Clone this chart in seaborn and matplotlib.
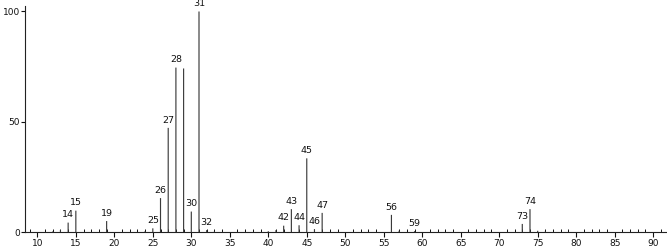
import matplotlib
matplotlib.use("Agg")
import matplotlib.pyplot as plt
import seaborn as sns
import pandas as pd
from matplotlib.ticker import MultipleLocator

mz = [12, 13, 14, 15, 19, 24, 25, 26, 27, 28, 29, 30, 31, 32, 33,
      40, 41, 42, 43, 44, 45, 46, 47, 56, 57, 59, 73, 74, 75, 76]
intensity = [0.4, 1.0, 4.4, 9.8, 5.1, 0.5, 1.8, 15.5, 47.3, 74.6, 74.2, 9.4, 100.0, 1.0, 0.4,
             0.5, 1.0, 3.0, 10.5, 3.2, 33.5, 1.4, 8.8, 7.9, 0.7, 0.5, 3.8, 10.5, 0.7, 0.4]
labeled = [14, 15, 19, 25, 26, 27, 28, 30, 31, 32, 42, 43, 44, 45, 46, 47, 56, 59, 73, 74]
x_ticks = list(range(10, 95, 5))
y_ticks = [0, 50, 100]

sns.set_theme(style="white")
plt.rcParams['font.family'] = ['DejaVu Sans']

df = pd.DataFrame({"mz": mz, "intensity": intensity})

fig = plt.figure(figsize=(6.67, 2.49), dpi=100)
ax = fig.add_axes([0.038, 0.067, 0.962, 0.909])

sns.barplot(data=df, x="mz", y="intensity", native_scale=True, width=0.15,
            color="#3a3a3a", saturation=1, edgecolor="none", linewidth=0, ax=ax)
for p in ax.patches:
    p.set_snap(False)

for m, v in zip(mz, intensity):
    if m in labeled:
        ax.text(m, v + 1.5, str(m), ha="center", va="bottom", fontsize=6.8,
                color="#111111", clip_on=False)

ax.set_xlim(8.44, 91.8)
ax.set_ylim(0, 102.5)
ax.set_xticks(x_ticks)
ax.set_xticklabels([str(t) for t in x_ticks])
ax.xaxis.set_minor_locator(MultipleLocator(1))
ax.set_yticks(y_ticks)
ax.set_yticklabels([str(t) for t in y_ticks])
ax.tick_params(axis="x", which="major", direction="out", length=3.5, width=0.8,
               labelsize=6.5, pad=1.5, colors="#111111", bottom=True)
ax.tick_params(axis="x", which="minor", direction="in", length=2.2, width=0.7,
               bottom=True, colors="#111111")
ax.tick_params(axis="y", which="major", direction="out", length=3, width=0.8,
               labelsize=6.5, pad=1, colors="#111111", left=True)
ax.set_xlabel("")
ax.set_ylabel("")
for s in ["top", "right"]:
    ax.spines[s].set_visible(False)
for s in ["left", "bottom"]:
    ax.spines[s].set_color("#222222")
    ax.spines[s].set_linewidth(0.8)
ax.set_facecolor("white")
ax.grid(False)

fig.savefig("out.png", dpi=100, facecolor="white")
